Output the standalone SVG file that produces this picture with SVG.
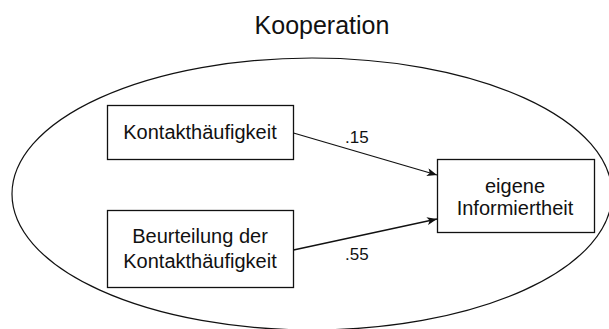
<svg xmlns="http://www.w3.org/2000/svg" width="609" height="329" viewBox="0 0 609 329">
  <style>
    text { font-family: "Liberation Sans", Arial, sans-serif; fill: #111; }
    .box { fill: #fff; stroke: #111; stroke-width: 1.3; }
    .lbl { font-size: 20px; text-anchor: middle; }
    .coef { font-size: 17px; }
    .edge { fill: none; stroke: #111; stroke-width: 1.3; marker-end: url(#arrow); }
  </style>
  <defs>
    <marker id="arrow" viewBox="0 0 10 8" refX="10" refY="4" markerWidth="10" markerHeight="8" markerUnits="userSpaceOnUse" orient="auto">
      <path d="M0,0 L10,4 L0,8 L2.5,4 Z" fill="#111"/>
    </marker>
  </defs>
  <rect width="609" height="329" fill="#fff"/>
  <text x="322" y="34" font-size="25" text-anchor="middle">Kooperation</text>
  <g id="context">
    <ellipse cx="312" cy="194" rx="300" ry="136" fill="none" stroke="#111" stroke-width="1.2"/>
  </g>
  <g id="kontakthaeufigkeit">
    <rect class="box" x="107.5" y="105.5" width="186" height="54"/>
    <text class="lbl" x="200" y="139">Kontakthäufigkeit</text>
  </g>
  <g id="beurteilung">
    <rect class="box" x="107.5" y="210.5" width="186" height="77"/>
    <text class="lbl" x="200" y="243">Beurteilung der</text>
    <text class="lbl" x="200" y="268">Kontakthäufigkeit</text>
  </g>
  <g id="informiertheit">
    <rect class="box" x="437.5" y="159.5" width="157" height="73"/>
    <text class="lbl" x="515" y="193">eigene</text>
    <text class="lbl" x="515" y="215">Informiertheit</text>
  </g>
  <g id="connectors">
    <line class="edge" x1="293.5" y1="133" x2="437" y2="175"/>
    <line class="edge" x1="293.5" y1="250" x2="437" y2="219"/>
    <text class="coef" x="345" y="143">.15</text>
    <text class="coef" x="345" y="260">.55</text>
  </g>
</svg>
